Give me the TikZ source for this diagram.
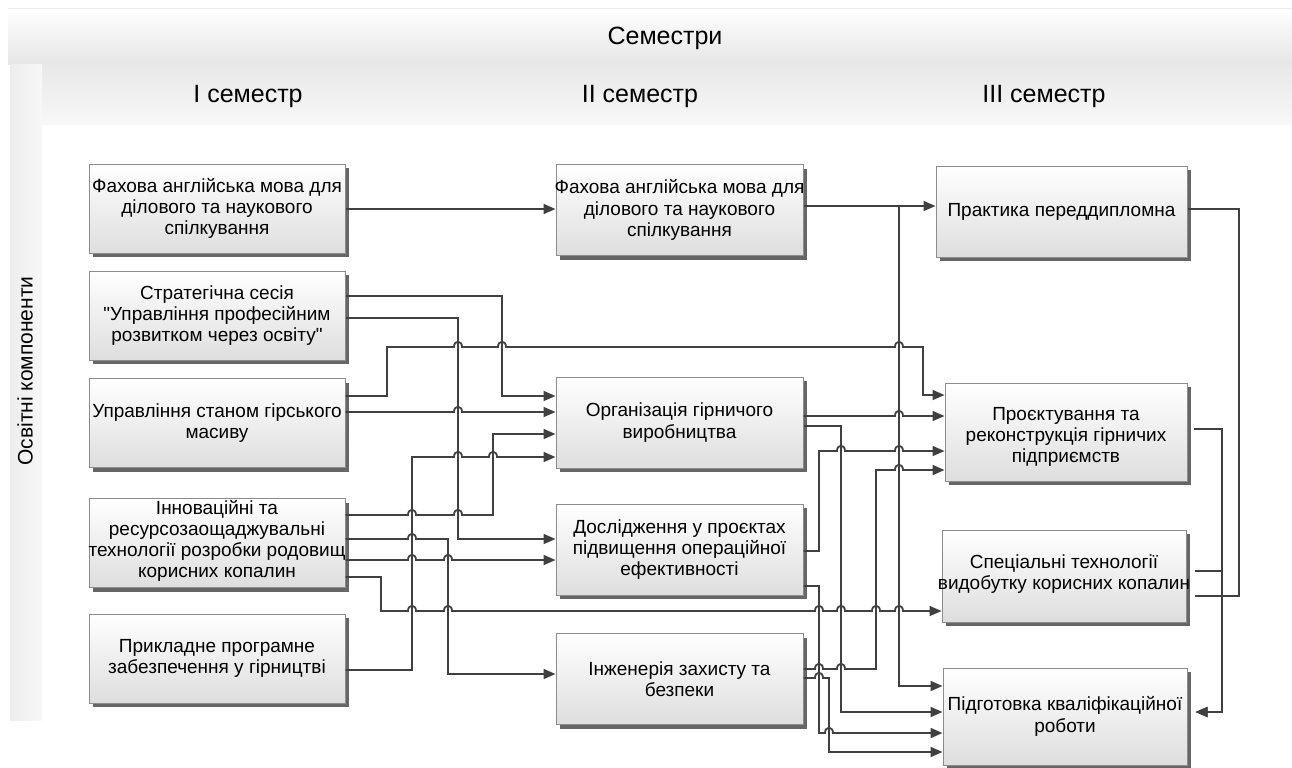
\documentclass[tikz,border=0pt]{standalone}
\usepackage{fontspec}
\setmainfont{Liberation Sans}
\usetikzlibrary{arrows.meta,shadows}
\newcommand{\sq}{\XeTeXglyph\XeTeXcharglyph"22\relax}
\begin{document}
\begin{tikzpicture}[x=0.5pt,y=-0.5pt,
  box/.style={draw=black!45, line width=0.5pt, top color=white, bottom color=black!13, inner sep=0pt,
     drop shadow={shadow xshift=2pt, shadow yshift=-2pt, opacity=1, fill=black!60}},
  colA/.style={box, minimum width=128pt, minimum height=44.5pt},
  colB/.style={box, minimum width=123.5pt, minimum height=45.5pt},
  txt/.style={align=center, font=\fontsize{9.5}{10.6}\selectfont, inner sep=0pt},
  hdr/.style={font=\fontsize{12.5}{14}\selectfont, inner sep=0pt},
  conn/.style={draw=black!75, line width=0.9pt},
  arr/.style={conn, -{Triangle[length=6pt,width=5pt]}},
  jump/.style args={#1/#2}{insert path={-- (#1-4,#2) .. controls (#1-4,#2-7) and (#1+4,#2-7) .. (#1+4,#2)}}
]
\useasboundingbox (0,0) rectangle (1292,767);
\fill[white] (0,0) rectangle (1292,767);
% bands
\shade[top color=white, bottom color=black!10] (8,8) rectangle (1292,64);
\draw[black!8, line width=0.4pt] (8,8) -- (1292,8);
\shade[top color=black!9, bottom color=black!3] (42,64) rectangle (1292,124);
\shade[left color=black!7, right color=black!3] (10,64) rectangle (42,720);
\node[hdr] (sem) at (665,38) {Семестри};
\node[hdr] (s1) at (248,96) {I семестр};
\node[hdr] (s2) at (640,96) {II семестр};
\node[hdr] (s3) at (1044,96) {III семестр};
\node[hdr, font=\fontsize{10.5}{12}\selectfont, rotate=90] (oc) at (25,371) {Освітні компоненти};

% boxes column I
\node[colA] (A1) at (217,208.5) {};
\node[colA] (A2) at (217,315.5) {};
\node[colA] (A3) at (217,423) {};
\node[colA] (A4) at (217,543) {};
\node[colA] (A5) at (217,658.5) {};
% column II
\node[colB] (B1) at (679.5,210) {};
\node[colB] (B2) at (679.5,422.5) {};
\node[colB] (B3) at (679.5,549.5) {};
\node[colB] (B4) at (679.5,679) {};
% column III
\node[box, minimum width=125.5pt, minimum height=45.5pt] (C1) at (1061.5,211.5) {};
\node[box, minimum width=121pt, minimum height=49pt] (C2) at (1066,432) {};
\node[box, minimum width=122pt, minimum height=46pt] (C3) at (1064,576) {};
\node[box, minimum width=122pt, minimum height=48.5pt] (C4) at (1065,716.5) {};
\coordinate (c4r) at ([xshift=4pt]C4.east);
\coordinate (c3r) at ([xshift=4pt]C3.east);
\coordinate (c2r) at ([xshift=3pt]C2.east);

% texts
\node[txt] (A1t) at (A1) {Фахова англійська мова для\\ділового та наукового\\спілкування};
\node[txt] (A2t) at (A2) {Стратегічна сесія\\\sq Управління професійним\\розвитком через освіту\sq};
\node[txt] (A3t) at (A3) {Управління станом гірського\\масиву};
\node[txt] (A4t) at (217,541) {Інноваційні та\\ресурсозаощаджувальні\\технології розробки родовищ\\корисних копалин};
\node[txt] (A5t) at (A5) {Прикладне програмне\\забезпечення у гірництві};
\node[txt] (B1t) at (B1) {Фахова англійська мова для\\ділового та наукового\\спілкування};
\node[txt] (B2t) at (B2) {Організація гірничого\\виробництва};
\node[txt] (B3t) at (B3) {Дослідження у проєктах\\підвищення операційної\\ефективності};
\node[txt] (B4t) at (B4) {Інженерія захисту та\\безпеки};
\node[txt] (C1t) at (C1) {Практика переддипломна};
\node[txt] (C2t) at (1066,437) {Проєктування та\\реконструкція гірничих\\підприємств};
\node[txt] (C3t) at (1064,574) {Спеціальні технології\\видобутку корисних копалин};
\node[txt] (C4t) at (C4) {Підготовка кваліфікаційної\\роботи};

% connectors
\draw[arr] (A1.east |- 0,209) -- (B1.west |- 0,209);
\draw[arr] (B1.east |- 0,206) -- (C1.west |- 0,206);
\draw[arr] (B1.east |- 0,206) -- (899,206) -- (899,686) -- (C4.west |- 0,686);
\draw[arr] (A2.east |- 0,296) -- (502,296) -- (502,396) -- (B2.west |- 0,396);
\draw[arr] (A2.east |- 0,318) -- (458,318) -- (458,539) -- (B3.west |- 0,539);
\draw[arr] (A3.east |- 0,396) -- (387,396) -- (387,347) [jump=458/347] [jump=502/347] [jump=899/347] -- (923,347) -- (923,395) -- (C2.west |- 0,395);
\draw[arr] (A3.east |- 0,412) [jump=458/412] -- (B2.west |- 0,412);
\draw[arr] (A4.east |- 0,515) [jump=412/515] [jump=458/515] -- (493,515) -- (493,434) -- (B2.west |- 0,434);
\draw[arr] (A5.east |- 0,670) -- (412,670) -- (412,457) [jump=458/457] [jump=493/457] -- (B2.west |- 0,457);
\draw[arr] (A4.east |- 0,539) [jump=412/539] -- (448,539) -- (448,674) -- (B4.west |- 0,674);
\draw[arr] (A4.east |- 0,560) [jump=412/560] [jump=448/560] -- (B3.west |- 0,560);
\draw[arr] (A4.east |- 0,577) -- (381,577) -- (381,611) [jump=412/611] [jump=448/611] [jump=819/611] [jump=841/611] [jump=876/611] [jump=899/611] -- (C3.west |- 0,611);
\draw[arr] (B2.east |- 0,416) [jump=899/416] -- (C2.west |- 0,416);
\draw[arr] (B2.east |- 0,426) -- (841,426) -- (841,712) -- (C4.west |- 0,712);
\draw[arr] (B3.east |- 0,551) -- (819,551) -- (819,451) [jump=841/451] [jump=899/451] -- (C2.west |- 0,451);
\draw[arr] (B3.east |- 0,586) -- (819,586) -- (819,733) [jump=829/733] -- (C4.west |- 0,733);
\draw[arr] (B4.east |- 0,669) [jump=819/669] [jump=841/669] -- (876,669) -- (876,470) [jump=899/470] -- (C2.west |- 0,470);
\draw[arr] (B4.east |- 0,678) [jump=819/678] -- (829,678) -- (829,752) -- (C4.west |- 0,752);
\draw[arr] (c2r |- 0,429) -- (1222,429) -- (1222,712) -- (c4r |- 0,712);
\draw[arr] (c3r |- 0,571) -- (1222,571) -- (1222,712) -- (c4r |- 0,712);
\draw[conn] (C1.east |- 0,209) -- (1239,209) -- (1239,596) -- (c3r |- 0,596);
\end{tikzpicture}
\end{document}
